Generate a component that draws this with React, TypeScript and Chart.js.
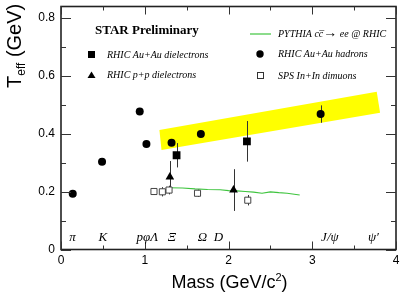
import React, { useEffect, useRef } from 'react';
import { Chart, registerables } from 'chart.js';

Chart.register(...registerables);

// ---- data ----
const hadronMass = [0.14, 0.49, 0.94, 1.02, 1.32, 1.67, 3.10];
const hadronTeff = [0.192, 0.303, 0.476, 0.364, 0.368, 0.398, 0.467];
const hadronErr = [0, 0, 0, 0, 0, 0, 0.03];

const auauMass = [1.38, 2.22];
const auauTeff = [0.325, 0.373];
const auauErr = [0.042, 0.07];

const ppMass = [1.30, 2.06];
const ppTeff = [0.25, 0.205];
const ppErr = [0.055, 0.072];

const spsMass = [1.11, 1.21, 1.29, 1.63, 2.23];
const spsTeff = [0.200, 0.199, 0.205, 0.194, 0.170];
const spsErr = [0.012, 0.016, 0.015, 0.013, 0.018];

const pythiaMass = [1.28, 1.45, 1.6, 1.75, 1.9, 2.0, 2.1, 2.2, 2.3, 2.4, 2.5, 2.6, 2.7, 2.85];
const pythiaTeff = [0.213, 0.212, 0.209, 0.207, 0.206, 0.203, 0.202, 0.200, 0.198, 0.194, 0.199, 0.196, 0.194, 0.188];

const bandMass = [1.175, 3.77, 3.81, 1.2, 1.175];
const bandTeff = [0.412, 0.544, 0.472, 0.343, 0.412];

const particleLabels = ['π', 'K', 'pφΛ', 'Ξ', 'Ω', 'D', 'J/ψ', 'ψ′'];
const particleMass = [0.137, 0.50, 1.03, 1.325, 1.69, 1.88, 3.21, 3.73];
const particleLabelY = 0.04;

const xTicks = [0, 1, 2, 3, 4];
const xMinorTicks = [0.5, 1.5, 2.5, 3.5];
const yTicks = [0, 0.2, 0.4, 0.6, 0.8];
const yMinorTicks = [0.1, 0.3, 0.5, 0.7];

const xMin = 0;
const xMax = 4;
const yMin = 0;
const yMax = 0.838;

const SERIF = "'Liberation Serif', 'Times New Roman', serif";
const SANS = "'Liberation Sans', Arial, sans-serif";

const pts = (xs: number[], ys: number[]) => xs.map((x, i) => ({ x, y: ys[i] }));

const customPlugin = {
  id: 'customDraw',
  afterDatasetDraw(chart: any, args: any) {
    if (args.index !== 0) return;
    const ctx = chart.ctx;
    const xs = chart.scales.x;
    const ys = chart.scales.y;
    ctx.save();
    ctx.strokeStyle = '#333';
    ctx.lineWidth = 1;
    const bars = (m: number[], t: number[], e: number[]) => {
      m.forEach((mm, i) => {
        if (!e[i]) return;
        const px = Math.round(xs.getPixelForValue(mm)) + 0.5;
        ctx.beginPath();
        ctx.moveTo(px, ys.getPixelForValue(t[i] + e[i]));
        ctx.lineTo(px, ys.getPixelForValue(t[i] - e[i]));
        ctx.stroke();
      });
    };
    bars(hadronMass, hadronTeff, hadronErr);
    bars(auauMass, auauTeff, auauErr);
    bars(ppMass, ppTeff, ppErr);
    bars(spsMass, spsTeff, spsErr);
    ctx.restore();
  },
  afterDraw(chart: any) {
    const ctx = chart.ctx;
    const xs = chart.scales.x;
    const ys = chart.scales.y;
    const a = chart.chartArea;
    ctx.save();
    // frame
    ctx.strokeStyle = '#222';
    ctx.lineWidth = 1.6;
    ctx.strokeRect(a.left, a.top, a.right - a.left, a.bottom - a.top);
    // ticks
    ctx.lineWidth = 1;
    ctx.strokeStyle = '#333';
    const yt = (v: number, len: number) => {
      const py = Math.round(ys.getPixelForValue(v)) + 0.5;
      ctx.beginPath();
      ctx.moveTo(a.left, py); ctx.lineTo(a.left + len, py);
      ctx.moveTo(a.right, py); ctx.lineTo(a.right - len, py);
      ctx.stroke();
    };
    const xt = (v: number, len: number) => {
      const px = Math.round(xs.getPixelForValue(v)) + 0.5;
      ctx.beginPath();
      ctx.moveTo(px, a.bottom); ctx.lineTo(px, a.bottom - len);
      ctx.moveTo(px, a.top); ctx.lineTo(px, a.top + len);
      ctx.stroke();
    };
    yTicks.forEach(v => yt(v, 10));
    yMinorTicks.forEach(v => yt(v, 5));
    xTicks.forEach(v => xt(v, 8));
    xMinorTicks.forEach(v => xt(v, 4));

    // particle labels
    ctx.fillStyle = '#000';
    ctx.font = `italic 13px ${SERIF}`;
    ctx.textAlign = 'center';
    ctx.textBaseline = 'middle';
    particleLabels.forEach((l, i) => {
      ctx.fillText(l, xs.getPixelForValue(particleMass[i]), ys.getPixelForValue(particleLabelY));
    });

    // legend block
    ctx.textAlign = 'left';
    ctx.font = `bold 13px ${SERIF}`;
    ctx.fillText('STAR Preliminary', 95, 31);

    ctx.font = `italic 10px ${SERIF}`;
    // filled square
    ctx.fillRect(88, 51, 7, 7);
    ctx.fillText('RHIC Au+Au dielectrons', 107, 55);
    // triangle
    ctx.beginPath();
    ctx.moveTo(91.5, 71.5); ctx.lineTo(95.5, 78); ctx.lineTo(87.5, 78); ctx.closePath();
    ctx.fill();
    ctx.fillText('RHIC p+p dielectrons', 107, 75);
    // green line
    ctx.strokeStyle = '#3ec43e';
    ctx.lineWidth = 1.2;
    ctx.beginPath(); ctx.moveTo(250, 34); ctx.lineTo(271, 34); ctx.stroke();
    let lx = 278;
    const pa = 'PYTHIA cc\u0305';
    ctx.fillText(pa, lx, 34);
    lx += ctx.measureText(pa).width;
    ctx.font = `14px ${SERIF}`;
    ctx.fillText('\u2192', lx, 33.5);
    lx += ctx.measureText('\u2192').width;
    ctx.font = `italic 10px ${SERIF}`;
    ctx.fillText(' ee @ RHIC', lx, 34);
    // circle
    ctx.beginPath(); ctx.arc(260, 54, 3.7, 0, Math.PI * 2); ctx.fill();
    ctx.fillText('RHIC Au+Au hadrons', 278, 54);
    // open square
    ctx.strokeStyle = '#333';
    ctx.lineWidth = 1;
    ctx.strokeRect(257.5, 72.5, 6, 6);
    ctx.fillText('SPS In+In dimuons', 278, 76);

    // x axis title
    ctx.font = `18px ${SANS}`;
    ctx.textBaseline = 'alphabetic';
    const t1 = 'Mass (GeV/c';
    const w1 = ctx.measureText(t1).width;
    ctx.font = `11px ${SANS}`;
    const w2 = ctx.measureText('2').width;
    ctx.font = `18px ${SANS}`;
    const w3 = ctx.measureText(')').width;
    const total = w1 + w2 + w3;
    const cx = (a.left + a.right) / 2 + 1;
    let sx = cx - total / 2;
    const by = 288;
    ctx.fillText(t1, sx, by);
    sx += w1;
    ctx.font = `11px ${SANS}`;
    ctx.fillText('2', sx, by - 7);
    sx += w2;
    ctx.font = `18px ${SANS}`;
    ctx.fillText(')', sx, by);

    // y axis title
    ctx.save();
    ctx.translate(21, 88);
    ctx.rotate(-Math.PI / 2);
    ctx.font = `20px ${SANS}`;
    ctx.fillText('T', 0, 0);
    let ox = ctx.measureText('T').width;
    ctx.font = `12px ${SANS}`;
    ctx.fillText('eff', ox, 4);
    ox += ctx.measureText('eff').width;
    ctx.font = `20px ${SANS}`;
    ctx.fillText(' (GeV)', ox, 0);
    ctx.restore();

    ctx.restore();
  },
};

export default function App() {
  const ref = useRef<HTMLCanvasElement | null>(null);
  useEffect(() => {
    if (!ref.current) return;
    const chart = new Chart(ref.current, {
      type: 'scatter',
      data: {
        datasets: [
          {
            type: 'line',
            label: 'band',
            data: pts(bandMass, bandTeff),
            fill: 'shape',
            backgroundColor: '#ffff00',
            borderColor: '#ffff00',
            borderWidth: 0,
            pointRadius: 0,
            tension: 0,
            order: 10,
          } as any,
          {
            type: 'line',
            label: 'PYTHIA',
            data: pts(pythiaMass, pythiaTeff),
            fill: false,
            borderColor: '#3ec43e',
            borderWidth: 1.2,
            pointRadius: 0,
            tension: 0,
            order: 5,
          } as any,
          {
            label: 'RHIC Au+Au hadrons',
            data: pts(hadronMass, hadronTeff),
            pointStyle: 'circle',
            pointRadius: 4,
            backgroundColor: '#000',
            borderWidth: 0,
            order: 1,
          },
          {
            label: 'RHIC Au+Au dielectrons',
            data: pts(auauMass, auauTeff),
            pointStyle: 'rect',
            pointRadius: 5.5,
            backgroundColor: '#000',
            borderWidth: 0,
            order: 1,
          },
          {
            label: 'RHIC p+p dielectrons',
            data: pts(ppMass, ppTeff),
            pointStyle: 'triangle',
            pointRadius: 5,
            backgroundColor: '#000',
            borderWidth: 0,
            order: 1,
          },
          {
            label: 'SPS In+In dimuons',
            data: pts(spsMass, spsTeff),
            pointStyle: 'rect',
            pointRadius: 4.3,
            backgroundColor: '#fff',
            borderColor: '#444',
            borderWidth: 1,
            order: 1,
          },
        ],
      },
      options: {
        animation: false,
        responsive: true,
        maintainAspectRatio: false,
        devicePixelRatio: 1,
        events: [],
        layout: { padding: { top: 6.5, right: 13, left: 0, bottom: 0 } },
        plugins: {
          legend: { display: false },
          tooltip: { enabled: false },
        },
        scales: {
          x: {
            type: 'linear',
            min: xMin,
            max: xMax,
            afterBuildTicks: (s: any) => { s.ticks = xTicks.map(v => ({ value: v })); },
            afterFit: (s: any) => { s.height = 44.5; s.paddingLeft = 0; s.paddingRight = 0; },
            grid: { display: false, drawTicks: false },
            border: { display: false },
            ticks: {
              color: '#000',
              font: { family: SANS, size: 12 },
              padding: 4,
              maxRotation: 0,
              autoSkip: false,
              callback: (v: any) => String(v),
            },
          },
          y: {
            type: 'linear',
            min: yMin,
            max: yMax,
            afterBuildTicks: (s: any) => { s.ticks = yTicks.map(v => ({ value: v })); },
            afterFit: (s: any) => { s.width = 61; s.paddingTop = 0; s.paddingBottom = 0; },
            grid: { display: false, drawTicks: false },
            border: { display: false },
            ticks: {
              color: '#000',
              font: { family: SANS, size: 12 },
              padding: 6,
              autoSkip: false,
              callback: (v: any) => (v === 0 ? '0' : Number(v).toFixed(1)),
            },
          },
        },
      } as any,
      plugins: [customPlugin],
    });
    return () => chart.destroy();
  }, []);
  return (
    <div style={{ position: 'fixed', left: 0, top: 0, width: 409, height: 294 }}>
      <canvas ref={ref} />
    </div>
  );
}
